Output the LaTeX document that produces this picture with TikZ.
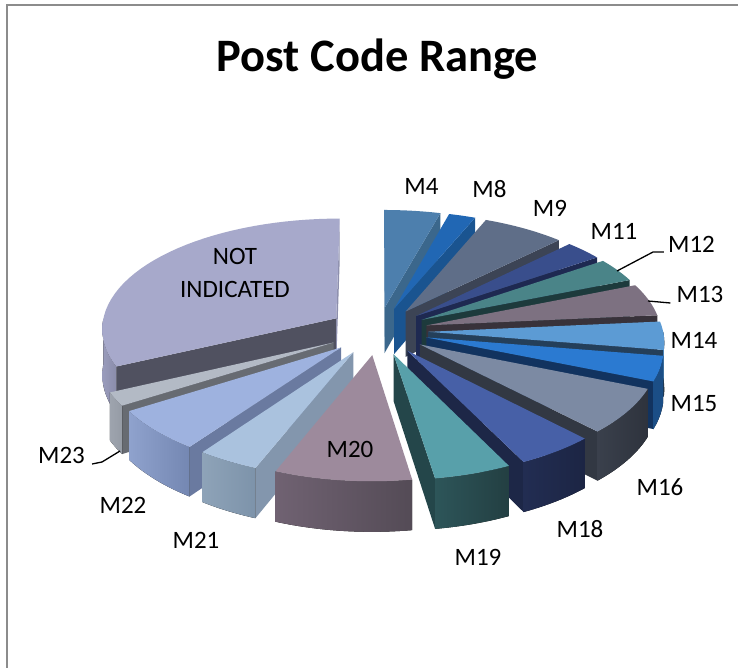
\documentclass[tikz,border=0pt]{standalone}
\usepackage{fontspec}
\setmainfont{Carlito}

% slice colours: top face, cut faces, outer rim (left/right of the shading)
\definecolor{cM4}{HTML}{4D7FAD}   \definecolor{sM4}{HTML}{3B678C}  \definecolor{aM4}{HTML}{3E6B91}
\definecolor{cM8}{HTML}{2167B4}   \definecolor{sM8}{HTML}{1A5490}
\definecolor{cM9}{HTML}{5F6E88}   \definecolor{sM9}{HTML}{3C4455}
\definecolor{cM11}{HTML}{394E8C}  \definecolor{sM11}{HTML}{1E2951}
\definecolor{cNI}{HTML}{A7A9CB}   \definecolor{sNI}{HTML}{505160}  \definecolor{bNI}{HTML}{8D8FAD}
\definecolor{oNIl}{HTML}{9A9CBC}  \definecolor{oNIr}{HTML}{8A8CAA}
\definecolor{cM12}{HTML}{4A8488}  \definecolor{sM12}{HTML}{1D3A3C}
\definecolor{cM13}{HTML}{7D7181}  \definecolor{sM13}{HTML}{38323A}
\definecolor{cM14}{HTML}{5C9BD4}  \definecolor{sM14}{HTML}{243F5A}  \definecolor{oM14}{HTML}{4A84B8}
\definecolor{cM15}{HTML}{2B7AD1}  \definecolor{sM15}{HTML}{12335F}  \definecolor{oM15}{HTML}{1B4E86}
\definecolor{cM23}{HTML}{B3BAC5}  \definecolor{sM23}{HTML}{676B72}
\definecolor{oM23l}{HTML}{9EA4AE} \definecolor{oM23r}{HTML}{959BA5}
\definecolor{cM16}{HTML}{7C8AA3}  \definecolor{sM16}{HTML}{323843}
\definecolor{oM16l}{HTML}{3A404C} \definecolor{oM16r}{HTML}{2E333D}
\definecolor{cM22}{HTML}{9EB2DF}  \definecolor{sM22}{HTML}{6A7AA0}
\definecolor{oM22l}{HTML}{8FA2CD} \definecolor{oM22r}{HTML}{7487B2}
\definecolor{cM18}{HTML}{4760A7}  \definecolor{sM18}{HTML}{1D2747}
\definecolor{oM18l}{HTML}{222D52} \definecolor{oM18r}{HTML}{1C2544}
\definecolor{cM21}{HTML}{AAC2DE}  \definecolor{sM21}{HTML}{8396AD}
\definecolor{oM21l}{HTML}{8EA3B8} \definecolor{oM21r}{HTML}{7D93AA}
\definecolor{cM19}{HTML}{58A0AA}  \definecolor{sM19}{HTML}{24464A}
\definecolor{oM19l}{HTML}{2D5559} \definecolor{oM19r}{HTML}{233F42}
\definecolor{cM20}{HTML}{9D8A9C}
\definecolor{oM20l}{HTML}{706272} \definecolor{oM20r}{HTML}{544B56}
\definecolor{frame}{HTML}{8C8C8C}

% top face of a slice: start angle, end angle, mid angle, colour
\newcommand\pieTop[4]{%
  \fill[#4] ({PX(0,0,#3)},{PY(0,0,#3)})
    -- plot[domain=#1:#2,samples=40,variable=\x] ({PX(235,\x,#3)},{PY(235,\x,#3)})
    -- cycle;}
% radial cut face of a slice: edge angle, mid angle, colour
\newcommand\pieRad[3]{%
  \fill[#3] ({PX(0,#1,#2)},{PY(0,#1,#2)}) -- ({PX(235,#1,#2)},{PY(235,#1,#2)})
    -- ({PX(235,#1,#2)},{PB(235,#1,#2)}) -- ({PX(0,#1,#2)},{PB(0,#1,#2)}) -- cycle;}
% outer rim of a slice: from angle, to angle, mid angle, left colour, right colour
\newcommand\pieOuter[5]{%
  \fill[left color=#4,right color=#5]
    plot[domain=#1:#2,samples=30,variable=\x] ({PX(235,\x,#3)},{PY(235,\x,#3)})
    -- plot[domain=#2:#1,samples=30,variable=\x] ({PX(235,\x,#3)},{PB(235,\x,#3)})
    -- cycle;}

\begin{document}
\begin{tikzpicture}[x=1pt,y=-1pt,
  declare function={
    XX(\qr,\qa,\qm)=\qr*cos(\qa)+50*cos(\qm);
    YY(\qr,\qa,\qm)=\qr*sin(\qa)+50*sin(\qm);
    PX(\qr,\qa,\qm)=378+XX(\qr,\qa,\qm)*(1-0.00035*YY(\qr,\qa,\qm));
    PY(\qr,\qa,\qm)=331-0.4765*YY(\qr,\qa,\qm)+1.8*(YY(\qr,\qa,\qm)/100)^2;
    PB(\qr,\qa,\qm)=PY(\qr,\qa,\qm)+46*(1-0.00035*YY(\qr,\qa,\qm));
  },
  lbl/.style={font=\fontsize{25}{33}\selectfont, anchor=base, inner sep=0pt},
  leader/.style={draw=black, line width=1.3pt}]

\useasboundingbox (0,0) rectangle (738,668);
\fill[white] (0,0) rectangle (738,668);
\draw[frame, line width=1.5pt] (7,668) -- (7,5) -- (738,5);

\node[font=\bfseries\fontsize{46.5}{50}\selectfont, anchor=base, inner sep=0pt]
  (title) at (377.5,72) {Post Code Range};

% slices, drawn from the back to the front
% M4
\pieRad{90}{82.3}{aM4}
\pieRad{74.6}{82.3}{sM4}
\pieTop{90}{74.6}{82.3}{cM4}
% M8
\pieRad{67.3}{70.95}{sM8}
\pieTop{74.6}{67.3}{70.95}{cM8}
% M9
\pieRad{44.7}{56}{sM9}
\pieTop{67.3}{44.7}{56}{cM9}
% M11
\pieRad{34.4}{39.55}{sM11}
\pieTop{44.7}{34.4}{39.55}{cM11}
% NOT INDICATED
\pieRad{-155}{147.5}{sNI}
\pieRad{-270}{147.5}{bNI}
\pieOuter{-180}{-155}{147.5}{oNIl}{oNIr}
\pieTop{-155}{-270}{147.5}{cNI}
% M12
\pieRad{22}{28.2}{sM12}
\pieTop{34.4}{22}{28.2}{cM12}
% M13
\pieRad{5.3}{13.65}{sM13}
\pieTop{22}{5.3}{13.65}{cM13}
% M14
\pieRad{-9.2}{-1.95}{sM14}
\pieOuter{-9.2}{0}{-1.95}{oM14}{oM14}
\pieTop{5.3}{-9.2}{-1.95}{cM14}
% M15
\pieRad{-22.1}{-15.65}{sM15}
\pieOuter{-22.1}{-9.2}{-15.65}{oM15}{oM15}
\pieTop{-9.2}{-22.1}{-15.65}{cM15}
% M23
\pieRad{-148}{-151.5}{sM23}
\pieOuter{-155}{-148}{-151.5}{oM23l}{oM23r}
\pieTop{-148}{-155}{-151.5}{cM23}
% M16
\pieRad{-45.8}{-33.95}{sM16}
\pieOuter{-45.8}{-22.1}{-33.95}{oM16l}{oM16r}
\pieTop{-22.1}{-45.8}{-33.95}{cM16}
% M22
\pieRad{-126}{-137}{sM22}
\pieOuter{-148}{-126}{-137}{oM22l}{oM22r}
\pieTop{-126}{-148}{-137}{cM22}
% M18
\pieRad{-63.5}{-54.65}{sM18}
\pieOuter{-63.5}{-45.8}{-54.65}{oM18l}{oM18r}
\pieTop{-45.8}{-63.5}{-54.65}{cM18}
% M21
\pieRad{-112}{-119}{sM21}
\pieOuter{-126}{-112}{-119}{oM21l}{oM21r}
\pieTop{-112}{-126}{-119}{cM21}
% M19
\pieRad{-81}{-72.25}{sM19}
\pieOuter{-81}{-63.5}{-72.25}{oM19l}{oM19r}
\pieTop{-63.5}{-81}{-72.25}{cM19}
% M20
\pieOuter{-112}{-81}{-96.5}{oM20l}{oM20r}
\pieTop{-81}{-112}{-96.5}{cM20}

% data labels
\node[lbl] (lM4)  at (421.5,195) {M4};
\node[lbl] (lM8)  at (489.5,198) {M8};
\node[lbl] (lM9)  at (550,217) {M9};
\node[lbl] (lM11) at (614,240) {M11};
\node[lbl] (lM12) at (691.5,252) {M12};
\node[lbl] (lM13) at (700,302) {M13};
\node[lbl] (lM14) at (694,348) {M14};
\node[lbl] (lM15) at (694,411) {M15};
\node[lbl] (lM16) at (660,495) {M16};
\node[lbl] (lM18) at (580,537) {M18};
\node[lbl] (lM19) at (478,565) {M19};
\node[lbl] (lM20) at (350,457) {M20};
\node[lbl] (lM21) at (196,548) {M21};
\node[lbl] (lM22) at (123,513) {M22};
\node[lbl] (lM23) at (61.5,463) {M23};
\node[lbl, anchor=center, align=center] (lNI) at (235,273) {NOT\\INDICATED};

% leader lines
\coordinate (k12) at (617,271);
\coordinate (b12) at (653,252);
\coordinate (k13) at (648,301);
\coordinate (k23) at (120,451);
\coordinate (b23) at (102,462);
\draw[leader] (k12) -- (b12) -- ([xshift=-4pt]lM12.base west);
\draw[leader] (k13) -- ([xshift=-6pt,yshift=-1pt]lM13.base west);
\draw[leader] (k23) -- (b23) -- ([xshift=7pt,yshift=-1pt]lM23.base east);
\end{tikzpicture}
\end{document}
